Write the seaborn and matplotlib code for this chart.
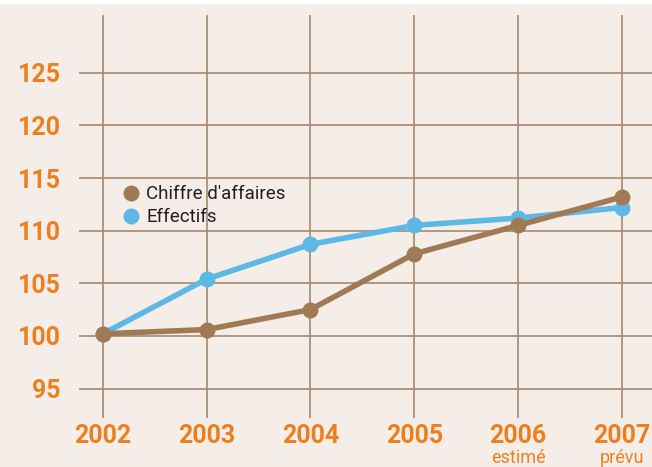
import matplotlib
matplotlib.use("Agg")
import matplotlib.pyplot as plt
from matplotlib.lines import Line2D
from matplotlib.patches import Rectangle
import seaborn as sns
import pandas as pd

years = [2002, 2003, 2004, 2005, 2006, 2007]
year_labels = ["2002", "2003", "2004", "2005", "2006", "2007"]
sub_labels = ["", "", "", "", "estimé", "prévu"]
chiffre = [100.2, 100.6, 102.5, 107.8, 110.5, 113.2]
effectifs = [100.2, 105.4, 108.7, 110.5, 111.2, 112.2]
series_names = ["Chiffre d'affaires", "Effectifs"]
y_ticks = [95, 100, 105, 110, 115, 120, 125]

bg = "#F5EEE8"
brown = "#A07A55"
blue = "#5DB8E6"
orange = "#EE7F1F"
grid_c = "#A8896E"

sns.set_theme(style="white")
plt.rcParams['font.family'] = ['Roboto', 'DejaVu Sans']

df = pd.DataFrame({
    "year": years * 2,
    "value": chiffre + effectifs,
    "series": [series_names[0]] * len(years) + [series_names[1]] * len(years),
})

fig = plt.figure(figsize=(6.52, 4.67), dpi=100)
fig.patch.set_facecolor(bg)
fig.patches.append(Rectangle((0, 0.991), 1, 0.009, transform=fig.transFigure,
                             facecolor="white", edgecolor="none", zorder=0))
ax = fig.add_axes([0.1212, 0.105, 0.8788, 0.863])
ax.set_facecolor(bg)

palette = {series_names[0]: brown, series_names[1]: blue}
for name in [series_names[1], series_names[0]]:
    sub = df[df["series"] == name]
    sns.lineplot(data=sub, x="year", y="value", color=palette[name], lw=4,
                 marker="o", markersize=11.5, markeredgewidth=0, ax=ax,
                 legend=False, zorder=3)

ax.set_xlim(2001.77, 2007.29)
ax.set_ylim(92.2, 130.5)
ax.set_yticks(y_ticks)
ax.set_yticklabels([str(t) for t in y_ticks], color=orange, fontsize=18, fontweight="bold")
ax.set_xticks(years)
ax.set_xticklabels(year_labels, color=orange, fontsize=18, fontweight="bold")
ax.tick_params(axis="y", length=0, pad=13)
ax.tick_params(axis="x", length=0, pad=4)
for x, s in zip(years, sub_labels):
    if s:
        ax.annotate(s, xy=(x, 0), xycoords=("data", "axes fraction"),
                    xytext=(0, -29), textcoords="offset points",
                    ha="center", va="center", color=orange, fontsize=13)

ax.grid(True, color=grid_c, lw=1.2)
ax.set_axisbelow(True)
for sp in ax.spines.values():
    sp.set_visible(False)
ax.set_xlabel("")
ax.set_ylabel("")

handles = [Line2D([], [], color=brown, marker="o", markersize=11.5, lw=0, markeredgewidth=0),
           Line2D([], [], color=blue, marker="o", markersize=11.5, lw=0, markeredgewidth=0)]
ax.legend(handles, series_names, loc="upper left", bbox_to_anchor=(0.075, 0.577),
          frameon=False, fontsize=13.5, handletextpad=0.3, handlelength=1.0,
          labelspacing=0.25, labelcolor="#231F20", borderaxespad=0, borderpad=0)

fig.savefig("out.png", dpi=100, facecolor=bg)
